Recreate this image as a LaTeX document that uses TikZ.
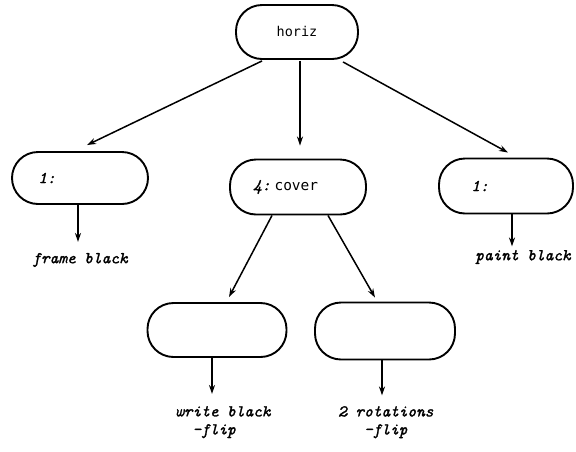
\documentclass[tikz,border=0pt]{standalone}
\usepackage{fontspec}
\usetikzlibrary{arrows.meta,calc}
\newfontfamily\typescript[FakeBold=1.6]{lmmono10-italic.otf}
\newfontfamily\typegothic{DejaVu Sans Mono}
\begin{document}
\begin{tikzpicture}[x=1pt,y=-1pt,
  pill/.style={draw,line width=1.9pt,rounded corners=26pt,inner sep=0pt},
  arr/.style={line width=1.5pt,-{Stealth[length=9pt,width=6pt]}},
  tag/.style={font=\fontsize{16.5}{18}\selectfont\typescript,inner sep=0pt,align=left},
  boxname/.style={font=\fontsize{13.5}{16}\selectfont\typegothic,inner sep=0pt}]
\useasboundingbox (0,0) rectangle (576,451);

% boxes
\node[pill,minimum width=122pt,minimum height=54pt] (horiz) at (297,32) {};
\node[pill,minimum width=136pt,minimum height=52pt] (L1) at (80,178) {};
\node[pill,minimum width=136pt,minimum height=55pt] (cover) at (298,187) {};
\node[pill,minimum width=134pt,minimum height=55pt] (R1) at (506,186) {};
\node[pill,minimum width=139pt,minimum height=54pt] (BL) at (217,330) {};
\node[pill,minimum width=140pt,minimum height=57pt] (BR) at (385,331) {};

% box texts
\node[boxname] (thoriz) at (297,31) {horiz};
\node[tag] (tL1) at (47,178) {1:};
\node[tag,anchor=west] (tcover) at (253,187) {4:\hspace{4pt}{\typegothic\fontsize{14.5}{16}\selectfont cover}};
\node[tag] (tR1) at (480,186) {1:};

% leaf texts
\node[tag] (frame) at (80,260) {frame black};
\node[tag] (paint) at (523,257) {paint black};
\node[tag,anchor=north west] (write) at (175,406) {write black\\\phantom{wr}-flip};
\node[tag,anchor=north west] (rot) at (338,406) {2 rotations\\\phantom{2 r}-flip};

% connectors from the top box
\draw[arr] ([xshift=-35pt,yshift=-1pt]horiz.south) -- ([xshift=7pt,yshift=6pt]L1.north);
\draw[arr] ([xshift=3pt,yshift=-1pt]horiz.south) -- ([xshift=2pt,yshift=13pt]cover.north);
\draw[arr] ([xshift=46pt,yshift=-2pt]horiz.south) -- ([xshift=2pt,yshift=5pt]R1.north);
% connectors from the cover box
\draw[arr] ([xshift=-26pt]cover.south) -- ([xshift=12pt,yshift=5pt]BL.north);
\draw[arr] ([xshift=30pt]cover.south) -- ([xshift=-10pt,yshift=4pt]BR.north);
% short drops to the leaf texts
\draw[arr] ([xshift=-2pt]L1.south) -- ++(0,37);
\draw[arr] ([xshift=6pt]R1.south) -- ++(0,32);
\draw[arr] ([xshift=-5pt]BL.south) -- ++(0,36);
\draw[arr] ([xshift=-3pt]BR.south) -- ++(0,35);
\end{tikzpicture}
\end{document}
